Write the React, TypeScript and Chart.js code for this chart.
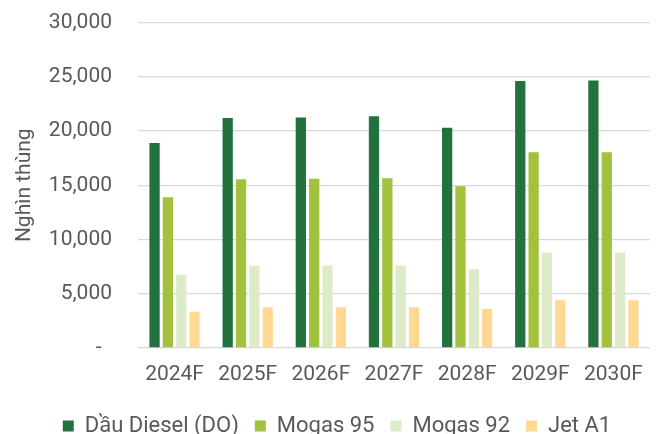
import React, { useEffect, useRef } from "react";
import { Chart, registerables } from "chart.js";

Chart.register(...registerables);

const categories = ["2024F", "2025F", "2026F", "2027F", "2028F", "2029F", "2030F"];
const diesel = [18900, 21200, 21250, 21350, 20300, 24600, 24650];
const mogas95 = [13900, 15550, 15600, 15650, 14900, 18050, 18050];
const mogas92 = [6750, 7600, 7600, 7600, 7250, 8800, 8800];
const jetA1 = [3350, 3750, 3750, 3750, 3600, 4400, 4400];
const seriesNames = ["Dầu Diesel (DO)", "Mogas 95", "Mogas 92", "Jet A1"];
const seriesColors = ["#23723D", "#A2C13C", "#DDEBC8", "#FFD993"];
const yTicks = [0, 5000, 10000, 15000, 20000, 25000, 30000];

const legendShift = {
  id: "legendShift",
  afterLayout(chart: any) {
    const lg = chart.legend;
    if (lg) {
      lg.left += 12;
      lg.right += 12;
      lg.top += 6;
      lg.bottom += 6;
    }
  },
};

export default function App() {
  const ref = useRef<HTMLCanvasElement | null>(null);
  useEffect(() => {
    document.body.style.margin = "0";
    if (!ref.current) return;
    const font = { family: "Roboto", size: 21 };
    const legendFont = { family: "Roboto", size: 22 };
    const data = [diesel, mogas95, mogas92, jetA1];
    const chart = new Chart(ref.current, {
      type: "bar",
      data: {
        labels: categories,
        datasets: seriesNames.map((n, i) => ({
          label: n,
          data: data[i],
          backgroundColor: seriesColors[i],
          borderWidth: 0,
          categoryPercentage: 0.73,
          barPercentage: 0.77,
        })),
      },
      plugins: [legendShift],
      options: {
        animation: false,
        responsive: false,
        maintainAspectRatio: false,
        layout: { padding: { top: 22.5, right: 10, left: 0, bottom: -7 } },
        plugins: {
          tooltip: { enabled: false },
          legend: {
            position: "bottom",
            labels: {
              font: legendFont,
              color: "#595959",
              boxWidth: 11,
              boxHeight: 11,
              padding: 16,
            },
          },
        },
        scales: {
          x: {
            grid: { display: false, drawTicks: false },
            border: { display: false },
            ticks: { font, color: "#595959", padding: 14 },
            afterFit: (s: any) => {
              s.height = 45;
              s.paddingLeft = 0;
              s.paddingRight = 0;
            },
          },
          y: {
            min: 0,
            max: 30000,
            afterBuildTicks: (axis: any) => {
              axis.ticks = yTicks.map((v) => ({ value: v }));
            },
            grid: { color: "#D9D9D9", lineWidth: 1.3, drawTicks: false },
            border: { display: false },
            ticks: {
              font,
              color: "#595959",
              padding: 26,
              callback: (v: any) => (Number(v) === 0 ? "-  " : Number(v).toLocaleString("en-US")),
            },
            title: {
              display: true,
              text: "Nghìn thùng",
              font,
              color: "#595959",
              padding: { top: 12, bottom: 0 },
            },
            afterFit: (s: any) => {
              s.width = 138;
              s.paddingTop = 0;
              s.paddingBottom = 0;
            },
          },
        },
      },
    });
    return () => chart.destroy();
  }, []);
  return (
    <div style={{ width: 660, height: 434 }}>
      <canvas ref={ref} width={660} height={434} />
    </div>
  );
}
